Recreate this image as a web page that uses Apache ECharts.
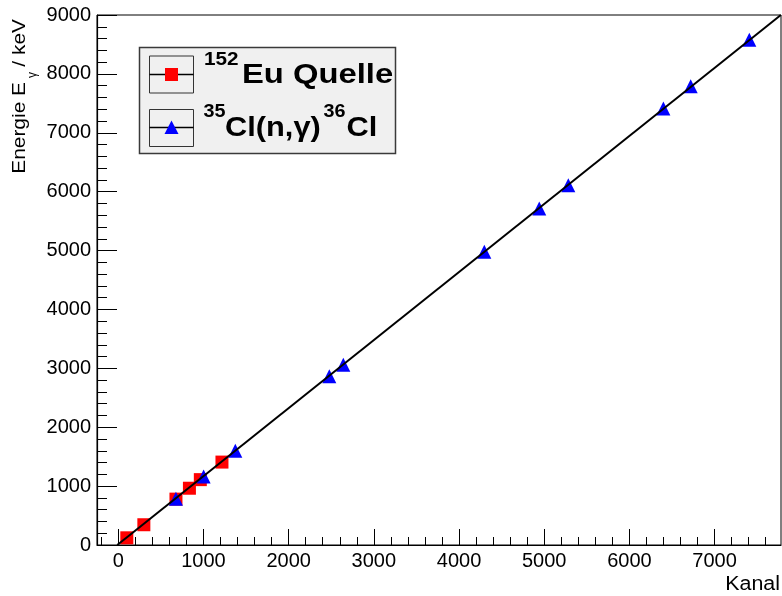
<!DOCTYPE html>
<html><head><meta charset="utf-8">
<script src="https://cdn.jsdelivr.net/npm/echarts@6/dist/echarts.min.js"></script>
<style>html,body{margin:0;padding:0;background:#fff}#c{width:782px;height:596px}</style>
</head><body><div id="c"></div>
<script>
// 152Eu source calibration points (channel, energy in keV)
const euChannel = [100, 300, 677, 835, 963, 1217];
const euEnergy = [122, 344, 779, 964, 1110, 1408];
// 35Cl(n,gamma)36Cl points
const clChannel = [677, 1002, 1374, 2477, 2642, 4297, 4942, 5283, 6399, 6720, 7408];
const clEnergy = [786, 1165, 1601, 2864, 3062, 4980, 5715, 6111, 7414, 7790, 8578];
// fitted calibration line, endpoints
const fitChannel = [-12, 7778];
const fitEnergy = [0, 9000];
// axis ticks
const xTickValues = [0, 1000, 2000, 3000, 4000, 5000, 6000, 7000];
const xMinorValues = [-200, 200, 400, 600, 800, 1200, 1400, 1600, 1800, 2200, 2400, 2600, 2800,
  3200, 3400, 3600, 3800, 4200, 4400, 4600, 4800, 5200, 5400, 5600, 5800,
  6200, 6400, 6600, 6800, 7200, 7400, 7600];
const yTickValues = [0, 1000, 2000, 3000, 4000, 5000, 6000, 7000, 8000, 9000];

const xMin = -250, xMax = 7780, yMin = 0, yMax = 9000;
const FONT = '"Liberation Sans", Arial, Helvetica, sans-serif';
const plain = v => String(v);

const chart = echarts.init(document.getElementById('c'), null, {renderer: 'canvas'});
const option = {
  animation: false,
  backgroundColor: '#ffffff',
  grid: {left: 97, top: 15, right: 1, bottom: 51, show: true, borderColor: '#000', borderWidth: 1, backgroundColor: 'transparent'},
  xAxis: [{
    type: 'value', min: xMin, max: xMax, position: 'bottom',
    axisLine: {show: true, onZero: false, lineStyle: {color: '#000', width: 1.2}},
    axisTick: {show: true, inside: true, length: 16, customValues: xTickValues, lineStyle: {color: '#000', width: 1}},
    axisLabel: {customValues: xTickValues, formatter: plain, color: '#000', fontFamily: FONT, fontSize: 20, margin: 6},
    splitLine: {show: false}
  }, {
    type: 'value', min: xMin, max: xMax, position: 'bottom', gridIndex: 0,
    axisLine: {show: false, onZero: false},
    axisTick: {show: true, inside: true, length: 8, customValues: xMinorValues, lineStyle: {color: '#000', width: 1}},
    axisLabel: {show: false},
    splitLine: {show: false}
  }],
  yAxis: {
    type: 'value', min: yMin, max: yMax, interval: 1000,
    axisLine: {show: true, onZero: false, lineStyle: {color: '#000', width: 1.2}},
    axisTick: {show: true, inside: true, length: 20, lineStyle: {color: '#000', width: 1}},
    minorTick: {show: true, splitNumber: 5, length: 10, lineStyle: {color: '#000', width: 1}},
    axisLabel: {customValues: yTickValues, formatter: plain, color: '#000', fontFamily: FONT, fontSize: 20, margin: 6},
    splitLine: {show: false},
    minorSplitLine: {show: false}
  },
  series: [{
    name: '152Eu Quelle', type: 'scatter', xAxisIndex: 0,
    symbol: 'rect', symbolSize: 13,
    itemStyle: {color: '#ff0000', opacity: 1},
    data: euChannel.map((c, i) => [c, euEnergy[i]]),
    z: 2
  }, {
    name: '35Cl(n,γ)36Cl', type: 'scatter', xAxisIndex: 0,
    symbol: 'triangle', symbolSize: 14,
    itemStyle: {color: '#0000ff', opacity: 1},
    data: clChannel.map((c, i) => [c, clEnergy[i]]),
    z: 3
  }, {
    name: 'Fit', type: 'line', xAxisIndex: 0,
    symbol: 'none', clip: true,
    lineStyle: {color: '#000', width: 2},
    data: fitChannel.map((c, i) => [c, fitEnergy[i]]),
    z: 4
  }],
  graphic: [
    // legend box
    {type: 'rect', shape: {x: 139.5, y: 47.5, width: 256, height: 106}, style: {fill: '#f0f0f0', stroke: '#3a3a3a', lineWidth: 1.5}, z: 10},
    {type: 'rect', shape: {x: 149.5, y: 56, width: 44, height: 37}, style: {fill: 'none', stroke: '#333', lineWidth: 1}, z: 11},
    {type: 'line', shape: {x1: 149.5, y1: 74.5, x2: 193.5, y2: 74.5}, style: {stroke: '#000', lineWidth: 1.5}, z: 11},
    {type: 'rect', shape: {x: 165, y: 68, width: 13, height: 13}, style: {fill: '#ff0000'}, z: 12},
    {type: 'rect', shape: {x: 149.5, y: 109.5, width: 44, height: 37}, style: {fill: 'none', stroke: '#333', lineWidth: 1}, z: 11},
    {type: 'line', shape: {x1: 149.5, y1: 127.5, x2: 193.5, y2: 127.5}, style: {stroke: '#000', lineWidth: 1.5}, z: 11},
    {type: 'polygon', shape: {points: [[171.5, 120.5], [178.5, 134], [164.5, 134]]}, style: {fill: '#0000ff'}, z: 12},
    {type: 'text', x: 204, y: 60, scaleX: 1.15, style: {text: '152', font: 'bold 18px ' + FONT, fill: '#000', align: 'left', verticalAlign: 'middle'}, z: 12},
    {type: 'text', x: 242, y: 75.5, scaleX: 1.17, style: {text: 'Eu Quelle', font: 'bold 28px ' + FONT, fill: '#000', align: 'left', verticalAlign: 'middle'}, z: 12},
    {type: 'text', x: 203.5, y: 112.5, scaleX: 1.1, style: {text: '35', font: 'bold 18px ' + FONT, fill: '#000', align: 'left', verticalAlign: 'middle'}, z: 12},
    {type: 'text', x: 225, y: 128, scaleX: 1.1, style: {text: 'Cl(n,γ)', font: 'bold 28px ' + FONT, fill: '#000', align: 'left', verticalAlign: 'middle'}, z: 12},
    {type: 'text', x: 323.5, y: 112.5, scaleX: 1.1, style: {text: '36', font: 'bold 18px ' + FONT, fill: '#000', align: 'left', verticalAlign: 'middle'}, z: 12},
    {type: 'text', x: 346.5, y: 128, scaleX: 1.1, style: {text: 'Cl', font: 'bold 28px ' + FONT, fill: '#000', align: 'left', verticalAlign: 'middle'}, z: 12},
    // y-axis title
    {type: 'text', x: 19.5, y: 82, rotation: Math.PI / 2, scaleX: 1.1, style: {text: 'Energie E', font: '19px ' + FONT, fill: '#000', align: 'right', verticalAlign: 'middle'}},
    {type: 'text', x: 33, y: 72, rotation: Math.PI / 2, style: {text: 'γ', font: '12px ' + FONT, fill: '#000', align: 'right', verticalAlign: 'middle'}},
    {type: 'text', x: 19.5, y: 19, rotation: Math.PI / 2, scaleX: 1.1, style: {text: '/ keV', font: '19px ' + FONT, fill: '#000', align: 'right', verticalAlign: 'middle'}},
    // x-axis title
    {type: 'text', x: 780, y: 584, scaleX: 1.07, style: {text: 'Kanal', font: '20px ' + FONT, fill: '#000', align: 'right', verticalAlign: 'middle'}}
  ]
};
chart.setOption(option);
</script>
</body></html>
